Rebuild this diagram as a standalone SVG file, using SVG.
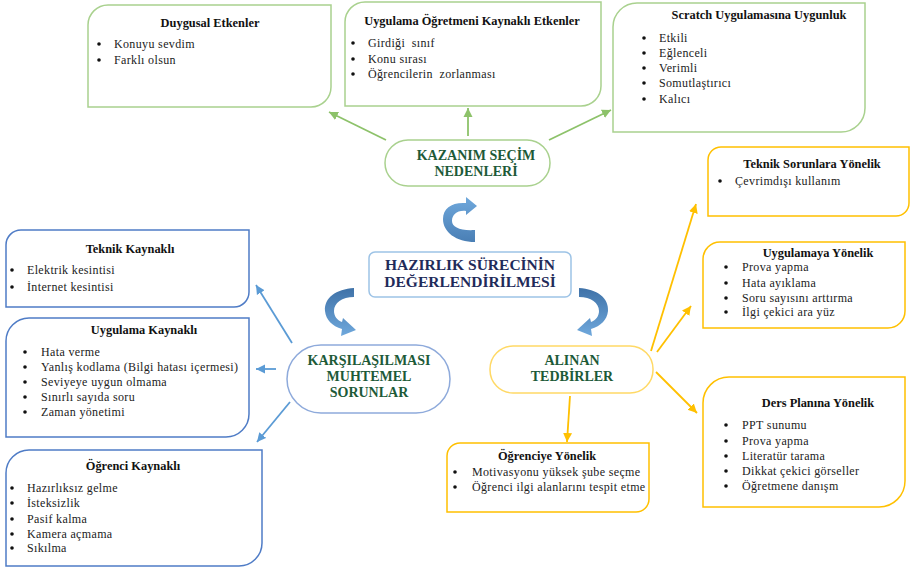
<svg xmlns="http://www.w3.org/2000/svg" width="914" height="568" viewBox="0 0 914 568">
<style>
.bg{fill:#fff}
.box{fill:#fff;stroke-width:1.5}
.g{stroke:#a9d18e}
.b{stroke:#4f7cc6}
.y{stroke:#ffc000}
.ttl{font-family:"Liberation Serif","Times New Roman",serif;font-weight:bold;font-size:12.4px;fill:#111;text-anchor:middle}
.it{font-family:"Liberation Serif","Times New Roman",serif;font-size:12px;letter-spacing:0.35px;fill:#222}
.pre{white-space:pre}
.dot{fill:#111}
.cen{font-family:"Liberation Serif","Times New Roman",serif;font-weight:bold;font-size:14px;fill:#1d5a38;text-anchor:middle}
.hz{font-family:"Liberation Serif","Times New Roman",serif;font-weight:bold;font-size:15.5px;fill:#1f2b5a;text-anchor:middle}
.con{fill:none;stroke-width:1.8}
</style>
<defs>
<marker id="mg" markerUnits="userSpaceOnUse" markerWidth="10" markerHeight="10" refX="9" refY="5" orient="auto"><path d="M0,0.5 L9,5 L0,9.5 Z" fill="#8dc26a"/></marker>
<marker id="mb" markerUnits="userSpaceOnUse" markerWidth="10" markerHeight="10" refX="9" refY="5" orient="auto"><path d="M0,0.5 L9,5 L0,9.5 Z" fill="#5b9bd5"/></marker>
<marker id="my" markerUnits="userSpaceOnUse" markerWidth="10" markerHeight="10" refX="9" refY="5" orient="auto"><path d="M0,0.5 L9,5 L0,9.5 Z" fill="#ffc000"/></marker>
<linearGradient id="ag" x1="0" y1="0" x2="0" y2="1"><stop offset="0" stop-color="#6fa8dc"/><stop offset="1" stop-color="#4a7fb5"/></linearGradient>
<linearGradient id="ag2" x1="0" y1="0" x2="0" y2="1"><stop offset="0" stop-color="#3f72a8"/><stop offset="1" stop-color="#6fa8dc"/></linearGradient>
</defs>
<rect class="bg" width="914" height="568"/>

<g id="connectors">
<line class="con" stroke="#8dc26a" x1="386" y1="140" x2="329" y2="112" marker-end="url(#mg)"/>
<line class="con" stroke="#8dc26a" x1="468" y1="136" x2="468" y2="108" marker-end="url(#mg)"/>
<line class="con" stroke="#8dc26a" x1="549" y1="140" x2="611" y2="110" marker-end="url(#mg)"/>
<line class="con" stroke="#5b9bd5" x1="292" y1="343" x2="256" y2="285" marker-end="url(#mb)"/>
<line class="con" stroke="#5b9bd5" x1="276" y1="369" x2="256" y2="369" marker-end="url(#mb)"/>
<line class="con" stroke="#5b9bd5" x1="290" y1="402" x2="257" y2="442" marker-end="url(#mb)"/>
<line class="con" stroke="#ffc000" x1="651" y1="351" x2="696" y2="204" marker-end="url(#my)"/>
<line class="con" stroke="#ffc000" x1="657" y1="352" x2="691" y2="306" marker-end="url(#my)"/>
<line class="con" stroke="#ffc000" x1="656" y1="372" x2="697" y2="413" marker-end="url(#my)"/>
<line class="con" stroke="#ffc000" x1="570" y1="396" x2="567" y2="442" marker-end="url(#my)"/>
<path id="curve-top" fill="url(#ag)" d="M475,242 C456,242 443,232 443,219 C443,208 452,202 466,203 L466,197 L477,206 L466,215 L466,211 C457,210 452,215 452,221 C452,227 460,231 475,230 Z"/>
<path id="curve-left" fill="url(#ag2)" d="M354,288 C336,289 324,298 325,311 C326,320 332,326 342,329 L341,336 L356,330 L343,318 L342,322 C337,320 334,316 334,311 C334,303 342,297 354,297 Z"/>
<path id="curve-right" fill="url(#ag2)" transform="translate(933,0) scale(-1,1)" d="M354,288 C336,289 324,298 325,311 C326,320 332,326 342,329 L341,336 L356,330 L343,318 L342,322 C337,320 334,316 334,311 C334,303 342,297 354,297 Z"/>
</g>

<g id="duygusal">
<path class="box g" d="M108,5 H331 V87 A20,20 0 0 1 311,107 H88 V25 A20,20 0 0 1 108,5 Z"/>
<text class="ttl" x="210" y="27">Duygusal Etkenler</text>
<circle class="dot" cx="99" cy="44" r="1.8"/><text class="it" x="114" y="48">Konuyu sevdim</text>
<circle class="dot" cx="99" cy="60" r="1.8"/><text class="it" x="114" y="64">Farklı olsun</text>
</g>

<g id="ogretmen">
<path class="box g" d="M365,2 H601 V86 A20,20 0 0 1 581,106 H345 V22 A20,20 0 0 1 365,2 Z"/>
<text class="ttl" x="472" y="25">Uygulama Öğretmeni Kaynaklı Etkenler</text>
<circle class="dot" cx="353" cy="43" r="1.8"/><text class="it pre" x="368" y="47">Girdiği  sınıf</text>
<circle class="dot" cx="353" cy="59" r="1.8"/><text class="it" x="368" y="63">Konu sırası</text>
<circle class="dot" cx="353" cy="74" r="1.8"/><text class="it pre" x="368" y="78">Öğrencilerin  zorlanması</text>
</g>

<g id="scratch">
<path class="box g" d="M637,3 H865 V108 A24,24 0 0 1 841,132 H613 V27 A24,24 0 0 1 637,3 Z"/>
<text class="ttl" x="759" y="19">Scratch Uygulamasına Uygunluk</text>
<circle class="dot" cx="644" cy="38" r="1.8"/><text class="it" x="659" y="42">Etkili</text>
<circle class="dot" cx="644" cy="53" r="1.8"/><text class="it" x="659" y="57">Eğlenceli</text>
<circle class="dot" cx="644" cy="68" r="1.8"/><text class="it" x="659" y="72">Verimli</text>
<circle class="dot" cx="644" cy="83" r="1.8"/><text class="it" x="659" y="87">Somutlaştırıcı</text>
<circle class="dot" cx="644" cy="99" r="1.8"/><text class="it" x="659" y="103">Kalıcı</text>
</g>

<g id="kazanim">
<rect x="385" y="140" width="165" height="46" rx="23" fill="#fff" stroke="#a9d18e" stroke-width="1.5"/>
<text class="cen" x="476" y="160">KAZANIM SEÇİM</text>
<text class="cen" x="476" y="176">NEDENLERİ</text>
</g>

<g id="hazirlik">
<rect x="369" y="252" width="202" height="45" rx="6" fill="#fff" stroke="#9dc3e6" stroke-width="1.5"/>
<text class="hz" x="470" y="270">HAZIRLIK SÜRECİNİN</text>
<text class="hz" x="470" y="287">DEĞERLENDİRİLMESİ</text>
</g>

<g id="sorunlar">
<rect x="287" y="345" width="163" height="68" rx="34" fill="#fff" stroke="#8eaadb" stroke-width="1.5"/>
<text class="cen" x="369" y="365">KARŞILAŞILMASI</text>
<text class="cen" x="369" y="381">MUHTEMEL</text>
<text class="cen" x="369" y="397">SORUNLAR</text>
</g>

<g id="tedbirler">
<rect x="490" y="346" width="163" height="47" rx="23" fill="#fff" stroke="#ffd966" stroke-width="1.5"/>
<text class="cen" x="572" y="365">ALINAN</text>
<text class="cen" x="572" y="381">TEDBİRLER</text>
</g>

<g id="teknik-kaynakli">
<path class="box b" d="M21,230 H249 V292 A15,15 0 0 1 234,307 H6 V245 A15,15 0 0 1 21,230 Z"/>
<text class="ttl" x="130" y="253">Teknik Kaynaklı</text>
<circle class="dot" cx="12" cy="270" r="1.8"/><text class="it" x="27" y="274">Elektrik kesintisi</text>
<circle class="dot" cx="12" cy="287" r="1.8"/><text class="it" x="27" y="291">İnternet kesintisi</text>
</g>

<g id="uygulama-kaynakli">
<path class="box b" d="M29,318 H249 V414 A23,23 0 0 1 226,437 H6 V341 A23,23 0 0 1 29,318 Z"/>
<text class="ttl" x="144" y="334">Uygulama Kaynaklı</text>
<circle class="dot" cx="25" cy="352" r="1.8"/><text class="it" x="41" y="356">Hata verme</text>
<circle class="dot" cx="25" cy="367" r="1.8"/><text class="it" x="41" y="371">Yanlış kodlama (Bilgi hatası içermesi)</text>
<circle class="dot" cx="25" cy="382" r="1.8"/><text class="it" x="41" y="386">Seviyeye uygun olmama</text>
<circle class="dot" cx="25" cy="397" r="1.8"/><text class="it" x="41" y="401">Sınırlı sayıda soru</text>
<circle class="dot" cx="25" cy="412" r="1.8"/><text class="it" x="41" y="416">Zaman yönetimi</text>
</g>

<g id="ogrenci-kaynakli">
<path class="box b" d="M29,450 H262 V543 A23,23 0 0 1 239,566 H6 V473 A23,23 0 0 1 29,450 Z"/>
<text class="ttl" x="133" y="470">Öğrenci Kaynaklı</text>
<circle class="dot" cx="12" cy="488" r="1.8"/><text class="it" x="27" y="492">Hazırlıksız gelme</text>
<circle class="dot" cx="12" cy="503" r="1.8"/><text class="it" x="27" y="507">İsteksizlik</text>
<circle class="dot" cx="12" cy="519" r="1.8"/><text class="it" x="27" y="523">Pasif kalma</text>
<circle class="dot" cx="12" cy="534" r="1.8"/><text class="it" x="27" y="538">Kamera açmama</text>
<circle class="dot" cx="12" cy="548" r="1.8"/><text class="it" x="27" y="552">Sıkılma</text>
</g>

<g id="ogrenciye">
<path class="box y" d="M460,443 H649 V499 A13,13 0 0 1 636,512 H447 V456 A13,13 0 0 1 460,443 Z"/>
<text class="ttl" x="547" y="460">Öğrenciye Yönelik</text>
<circle class="dot" cx="455" cy="472" r="1.8"/><text class="it" x="472" y="476">Motivasyonu yüksek şube seçme</text>
<circle class="dot" cx="455" cy="487" r="1.8"/><text class="it" x="472" y="491">Öğrenci ilgi alanlarını tespit etme</text>
</g>

<g id="teknik-sorunlara">
<path class="box y" d="M721,147 H909 V203 A13,13 0 0 1 896,216 H708 V160 A13,13 0 0 1 721,147 Z"/>
<text class="ttl" x="812" y="168">Teknik Sorunlara Yönelik</text>
<circle class="dot" cx="720" cy="181" r="1.8"/><text class="it" x="735" y="185">Çevrimdışı kullanım</text>
</g>

<g id="uygulamaya">
<path class="box y" d="M720,242 H905 V311 A17,17 0 0 1 888,328 H703 V259 A17,17 0 0 1 720,242 Z"/>
<text class="ttl" x="818" y="257">Uygulamaya Yönelik</text>
<circle class="dot" cx="726" cy="267" r="1.8"/><text class="it" x="742" y="271">Prova yapma</text>
<circle class="dot" cx="726" cy="283" r="1.8"/><text class="it" x="742" y="287">Hata ayıklama</text>
<circle class="dot" cx="726" cy="298" r="1.8"/><text class="it" x="742" y="302">Soru sayısını arttırma</text>
<circle class="dot" cx="726" cy="312" r="1.8"/><text class="it" x="742" y="316">İlgi çekici ara yüz</text>
</g>

<g id="ders-plani">
<path class="box y" d="M729,377 H905 V481 A26,26 0 0 1 879,507 H703 V403 A26,26 0 0 1 729,377 Z"/>
<text class="ttl" x="818" y="407">Ders Planına Yönelik</text>
<circle class="dot" cx="726" cy="425" r="1.8"/><text class="it" x="742" y="429">PPT sunumu</text>
<circle class="dot" cx="726" cy="441" r="1.8"/><text class="it" x="742" y="445">Prova yapma</text>
<circle class="dot" cx="726" cy="456" r="1.8"/><text class="it" x="742" y="460">Literatür tarama</text>
<circle class="dot" cx="726" cy="471" r="1.8"/><text class="it" x="742" y="475">Dikkat çekici görseller</text>
<circle class="dot" cx="726" cy="486" r="1.8"/><text class="it" x="742" y="490">Öğretmene danışm</text>
</g>
</svg>
